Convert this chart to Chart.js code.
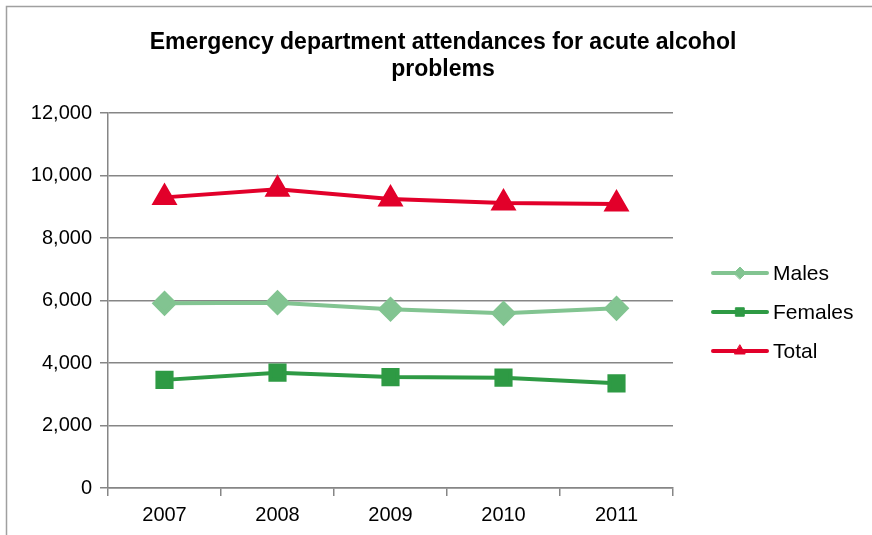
<!DOCTYPE html>
<html>
<head>
<meta charset="utf-8">
<script src="https://cdn.jsdelivr.net/npm/chart.js@4.4.1/dist/chart.umd.min.js"></script>
<style>
html, body { margin: 0; padding: 0; background: #fff; }
#wrap { width: 872px; height: 535px; }
</style>
</head>
<body>
<div id="wrap"><canvas id="attChart" width="872" height="535"></canvas></div>
<script>
var years = ['2007', '2008', '2009', '2010', '2011']
var males = [5910, 5930, 5720, 5590, 5750]
var females = [3460, 3690, 3550, 3530, 3350]
var total = [9300, 9560, 9250, 9120, 9090]
var titleLines = ['Emergency department attendances for acute alcohol', 'problems']

var fontFamily = '"Liberation Sans", Arial, sans-serif'

// frame, title and the legend on the right are drawn by hand
var extras = {
    id: 'extras',
    beforeDraw: function (chart) {
        var c = chart.ctx
        c.save()
        c.strokeStyle = '#a0a0a0'
        c.lineWidth = 1.5
        c.beginPath()
        c.moveTo(6.5, 600)
        c.lineTo(6.5, 6.5)
        c.lineTo(900, 6.5)
        c.stroke()
        c.restore()
    },
    afterDraw: function (chart) {
        var c = chart.ctx
        c.save()
        c.fillStyle = '#000'
        c.font = 'bold 23px ' + fontFamily
        c.textAlign = 'center'
        c.textBaseline = 'middle'
        c.fillText(titleLines[0], 443, 43)
        c.fillText(titleLines[1], 443, 70)

        var rows = [273, 312, 351]
        chart.data.datasets.forEach(function (ds, i) {
            var y = rows[i]
            c.strokeStyle = ds.borderColor
            c.lineWidth = 4
            c.lineCap = 'round'
            c.beginPath()
            c.moveTo(713, y)
            c.lineTo(767, y)
            c.stroke()
            c.fillStyle = ds.borderColor
            c.strokeStyle = ds.borderColor
            c.lineWidth = 1
            Chart.helpers.drawPoint(c, {pointStyle: ds.pointStyle, radius: 6, rotation: 0, borderWidth: 1}, 740, y)
            c.fillStyle = '#000'
            c.font = '21px ' + fontFamily
            c.textAlign = 'left'
            c.textBaseline = 'middle'
            c.fillText(ds.label, 773, y + 1)
        })
        c.restore()
    }
}

var ctx = document.getElementById('attChart')
var chart = new Chart(ctx, {
    type: 'line',
    data: {
        labels: years,
        datasets: [{
            label: 'Males',
            data: males,
            borderColor: '#82c491',
            backgroundColor: '#82c491',
            borderWidth: 4,
            pointStyle: 'rectRot',
            pointRadius: 10,
            tension: 0
        }, {
            label: 'Females',
            data: females,
            borderColor: '#2e9a44',
            backgroundColor: '#2e9a44',
            borderWidth: 4,
            pointStyle: 'rect',
            pointRadius: 10,
            tension: 0
        }, {
            label: 'Total',
            data: total,
            borderColor: '#e2002a',
            backgroundColor: '#e2002a',
            borderWidth: 4,
            pointStyle: 'triangle',
            pointRadius: 11,
            tension: 0
        }]
    },
    options: {
        responsive: false,
        animation: false,
        layout: {padding: {left: 0, right: 199, top: 113, bottom: 0}},
        plugins: {
            legend: {display: false},
            title: {display: false},
            tooltip: {enabled: false}
        },
        scales: {
            x: {
                offset: true,
                grid: {offset: true, drawOnChartArea: false, drawTicks: true, tickLength: 8, color: '#868686', lineWidth: 1.5},
                border: {color: '#868686', width: 1.5},
                ticks: {color: '#000', font: {family: fontFamily, size: 20}, padding: 7, maxRotation: 0},
                afterFit: function (scale) { scale.height = 47 }
            },
            y: {
                min: 0,
                max: 12000,
                grid: {color: '#868686', lineWidth: 1.5, tickLength: 8},
                border: {color: '#868686', width: 1.5},
                ticks: {
                    stepSize: 2000,
                    color: '#000',
                    font: {family: fontFamily, size: 20},
                    padding: 8,
                    callback: function (v) { return v.toLocaleString('en-US') }
                },
                afterFit: function (scale) { scale.width = 108 }
            }
        }
    },
    plugins: [extras]
})
</script>
</body>
</html>
